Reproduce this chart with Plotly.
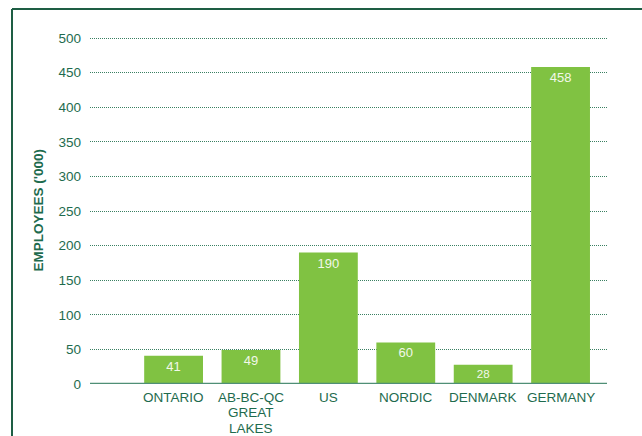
import plotly.graph_objects as go

# Employment by region, thousands of employees
regions = ["ONTARIO", "AB-BC-QC<br>GREAT<br>LAKES", "US", "NORDIC", "DENMARK", "GERMANY"]
employees = [41, 49, 190, 60, 28, 458]
y_ticks = [0, 50, 100, 150, 200, 250, 300, 350, 400, 450, 500]

BAR_GREEN = "#80c242"
DARK_GREEN = "#1e6b4e"
GRID_GREEN = "#3a8062"
FONT = "Liberation Sans, Arial, Helvetica, sans-serif"

# plot area geometry in pixels
M_L, M_R, M_T, M_B = 90, 35, 38, 52
W, H = 642, 436
PLOT_W = W - M_L - M_R
PLOT_H = H - M_T - M_B


def px_x(px):
    return (px - M_L) / PLOT_W


def px_y(px):
    return (H - M_B - px) / PLOT_H


x_idx = list(range(len(regions)))

fig = go.Figure(
    go.Bar(
        x=x_idx,
        y=employees,
        width=0.76,
        marker=dict(color=BAR_GREEN, line=dict(width=0)),
        text=[str(v) for v in employees],
        textposition="inside",
        insidetextanchor="end",
        textangle=0,
        insidetextfont=dict(family=FONT, size=13, color="#f2f8ea"),
        hoverinfo="skip",
    )
)

# category labels under each bar, one annotation per line (tight leading)
LINE_STEP = 15.2
annotations = []
for i, label in enumerate(regions):
    for j, line in enumerate(label.split("<br>")):
        annotations.append(
            dict(
                x=i, xref="x", y=px_y(397.5 + LINE_STEP * j), yref="paper",
                text=line, showarrow=False, borderpad=0,
                font=dict(family=FONT, size=13.5, color=DARK_GREEN),
                xanchor="center", yanchor="middle",
            )
        )

annotations.append(
    dict(
        x=px_x(38), xref="paper", y=0.5, yref="paper",
        text="<b>EMPLOYEES ('000)</b>", textangle=-90, showarrow=False,
        font=dict(family=FONT, size=13.5, color=DARK_GREEN),
        xanchor="center", yanchor="middle",
    )
)

fig.update_layout(
    width=W,
    height=H,
    margin=dict(l=M_L, r=M_R, t=M_T - 1, b=M_B),
    paper_bgcolor="white",
    plot_bgcolor="white",
    showlegend=False,
    xaxis=dict(
        range=[-1.08, 5.6],
        showticklabels=False,
        showgrid=False,
        zeroline=False,
        showline=False,
        fixedrange=True,
    ),
    yaxis=dict(
        range=[0, 501.5],
        tickvals=y_ticks,
        ticktext=[str(v) for v in y_ticks],
        tickfont=dict(family=FONT, size=13.5, color=DARK_GREEN),
        ticks="",
        ticklabelstandoff=8,
        showgrid=True,
        gridcolor=GRID_GREEN,
        griddash="1px,1px",
        gridwidth=1,
        zeroline=False,
        showline=False,
        fixedrange=True,
    ),
    annotations=annotations,
    shapes=[
        # baseline along zero
        dict(type="line", xref="paper", yref="y", x0=0, x1=1, y0=0, y1=0,
             line=dict(color="#4f8f76", width=2.5), layer="above"),
        # frame: left and top rules
        dict(type="line", xref="paper", yref="paper",
             x0=px_x(12), x1=px_x(12), y0=px_y(H + 2), y1=px_y(10),
             line=dict(color="#1e5e44", width=2)),
        dict(type="line", xref="paper", yref="paper",
             x0=px_x(12), x1=px_x(W + 3), y0=px_y(10), y1=px_y(10),
             line=dict(color="#1e5e44", width=2)),
    ],
)

fig.write_html("out.html")
